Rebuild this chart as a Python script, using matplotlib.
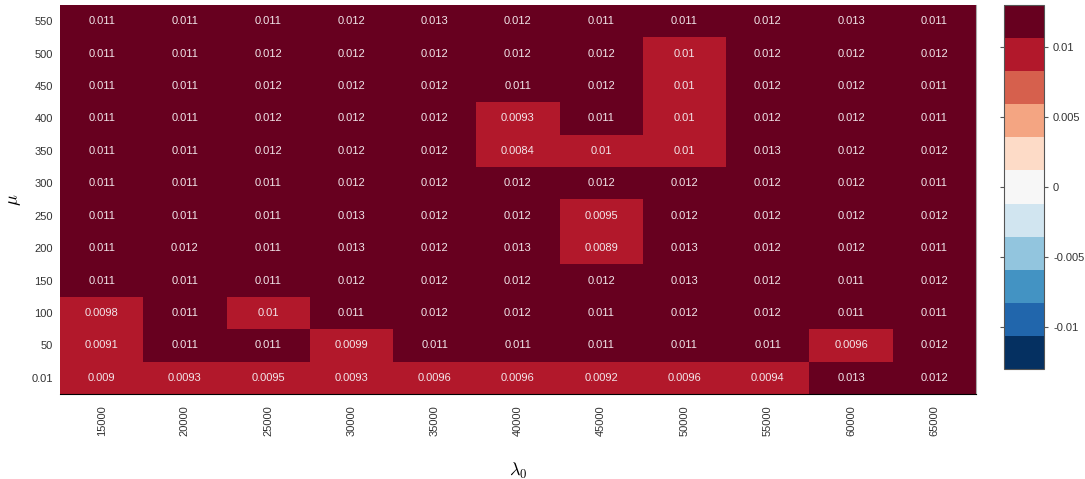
import numpy as np
import matplotlib
matplotlib.use("Agg")
import matplotlib.pyplot as plt

plt.rcParams['font.family'] = ['Liberation Sans', 'DejaVu Sans']
plt.rcParams['mathtext.fontset'] = 'cm'

lambda0 = [15000, 20000, 25000, 30000, 35000, 40000, 45000, 50000, 55000, 60000, 65000]
mu = ['0.01', '50', '100', '150', '200', '250', '300', '350', '400', '450', '500', '550']

# rows follow mu (bottom to top), columns follow lambda0
err_001 = [0.009, 0.0093, 0.0095, 0.0093, 0.0096, 0.0096, 0.0092, 0.0096, 0.0094, 0.013, 0.012]
err_050 = [0.0091, 0.011, 0.011, 0.0099, 0.011, 0.011, 0.011, 0.011, 0.011, 0.0096, 0.012]
err_100 = [0.0098, 0.011, 0.01, 0.011, 0.012, 0.012, 0.011, 0.012, 0.012, 0.011, 0.011]
err_150 = [0.011, 0.011, 0.011, 0.012, 0.012, 0.012, 0.012, 0.013, 0.012, 0.011, 0.012]
err_200 = [0.011, 0.012, 0.011, 0.013, 0.012, 0.013, 0.0089, 0.013, 0.012, 0.012, 0.011]
err_250 = [0.011, 0.011, 0.011, 0.013, 0.012, 0.012, 0.0095, 0.012, 0.012, 0.012, 0.012]
err_300 = [0.011, 0.011, 0.011, 0.012, 0.012, 0.012, 0.012, 0.012, 0.012, 0.012, 0.011]
err_350 = [0.011, 0.011, 0.012, 0.012, 0.012, 0.0084, 0.01, 0.01, 0.013, 0.012, 0.012]
err_400 = [0.011, 0.011, 0.012, 0.012, 0.012, 0.0093, 0.011, 0.01, 0.012, 0.012, 0.011]
err_450 = [0.011, 0.011, 0.012, 0.012, 0.012, 0.011, 0.012, 0.01, 0.012, 0.012, 0.011]
err_500 = [0.011, 0.011, 0.012, 0.012, 0.012, 0.012, 0.012, 0.01, 0.012, 0.012, 0.012]
err_550 = [0.011, 0.011, 0.011, 0.012, 0.013, 0.012, 0.011, 0.011, 0.012, 0.013, 0.011]

Z = np.array([err_001, err_050, err_100, err_150, err_200, err_250,
              err_300, err_350, err_400, err_450, err_500, err_550])
vmax = np.abs(Z).max()

fig = plt.figure(figsize=(10.85, 4.79), dpi=100)
ax = fig.add_axes([0.0553, 0.1775, 0.8442, 0.8121])
cax = fig.add_axes([0.9253, 0.2296, 0.0369, 0.760])

cmap = plt.get_cmap('RdBu_r', 11)
mesh = ax.pcolormesh(Z, cmap=cmap, vmin=-vmax, vmax=vmax)

for i in range(Z.shape[0]):
    for j in range(Z.shape[1]):
        ax.text(j + 0.5, i + 0.5, '%.2g' % Z[i, j], ha='center', va='center',
                fontsize=8, color='#f2e6ea')

ax.set_xlim(0, len(lambda0))
ax.set_ylim(0, len(mu))
ax.set_xticks(np.arange(len(lambda0)) + 0.5)
ax.set_xticklabels([str(v) for v in lambda0], rotation=90)
ax.set_yticks(np.arange(len(mu)) + 0.5)
ax.set_yticklabels(mu)
ax.tick_params(length=0, labelsize=8, labelcolor='#333333', pad=5)
ax.tick_params(axis='x', pad=8)
for side in ['top', 'left']:
    ax.spines[side].set_visible(False)
ax.spines['right'].set_color('#aaaaaa')
ax.spines['bottom'].set_color('black')

ax.set_xlabel(r'$\lambda_0$', fontsize=13, labelpad=18)
ax.set_ylabel(r'$\mu$', fontsize=13, labelpad=6)

cb = fig.colorbar(mesh, cax=cax, ticks=[-0.01, -0.005, 0, 0.005, 0.01], format='%g')
cb.outline.set_edgecolor('#555555')
cb.ax.tick_params(left=True, right=True, direction='out', length=3,
                  labelsize=8, labelcolor='#333333', color='#555555')

fig.savefig('out.png', dpi=100)
